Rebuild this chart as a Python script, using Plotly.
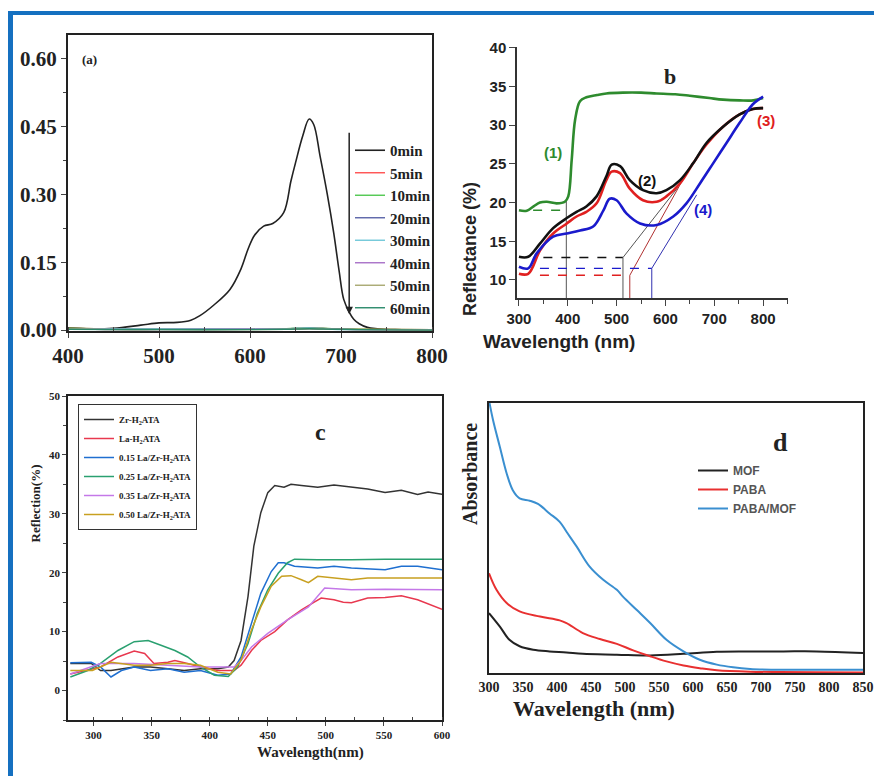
import plotly.graph_objects as go

# page body has an 8px margin: the figure sits at (8, 8) in the window
OFF = 8
W, H = 882 - OFF, 776 - OFF
def px(x): return (x - OFF) / W
def py(y): return 1 - (y - OFF) / H

SERIF = "Liberation Serif"
SANS = "Liberation Sans"

# ---------------- Panel (a) data ----------------
a_x0 = [400, 420, 450, 480, 500, 520, 535, 545, 560, 578, 590, 598, 605, 615, 625, 637, 645, 650, 658,
        665, 670, 677, 685, 692, 698, 703, 709, 714, 720, 729, 740, 760, 800]
a_y0 = [0.005, 0.003, 0.004, 0.011, 0.016, 0.017, 0.022, 0.032, 0.055, 0.09, 0.135, 0.18, 0.21, 0.230,
        0.236, 0.26, 0.33, 0.37, 0.43, 0.467, 0.455, 0.385, 0.30, 0.215, 0.13, 0.068, 0.04, 0.024,
        0.014, 0.006, 0.003, 0.001, 0.0]
a_xl = [400, 450, 500, 600, 640, 665, 690, 720, 800]
a_low = {
    "5min":  [0.004, 0.002, 0.002, 0.002, 0.003, 0.004, 0.003, 0.002, 0.001],
    "10min": [0.004, 0.002, 0.002, 0.002, 0.003, 0.005, 0.003, 0.002, 0.001],
    "20min": [0.003, 0.002, 0.002, 0.002, 0.003, 0.004, 0.003, 0.001, 0.001],
    "30min": [0.003, 0.002, 0.002, 0.002, 0.003, 0.004, 0.002, 0.001, 0.001],
    "40min": [0.003, 0.001, 0.001, 0.002, 0.002, 0.003, 0.002, 0.001, 0.000],
    "50min": [0.003, 0.001, 0.001, 0.001, 0.002, 0.003, 0.002, 0.001, 0.000],
    "60min": [0.002, 0.001, 0.001, 0.001, 0.002, 0.003, 0.002, 0.001, 0.000],
}
a_colors = {"0min": "#222222", "5min": "#ff5050", "10min": "#50c850", "20min": "#5a64a8",
            "30min": "#70c8d8", "40min": "#a870c8", "50min": "#a8a870", "60min": "#2a8a6a"}
a_yticks = [0.0, 0.15, 0.30, 0.45, 0.60]
a_xticks = [400, 500, 600, 700, 800]

# ---------------- Panel (b) data ----------------
b_g_x = [300, 316, 330, 343, 357, 377, 394, 401, 408, 415, 425, 438, 460, 479, 513, 550, 582, 620, 650,
         690, 718, 752, 780, 800]
b_g_y = [19.0, 18.95, 19.5, 20.0, 20.1, 19.9, 20.1, 20.8, 25.5, 30.7, 33.1, 33.6, 33.9, 34.1, 34.2,
         34.2, 34.1, 34.0, 33.8, 33.5, 33.3, 33.2, 33.2, 33.5]
b_k_x = [300, 319, 343, 370, 398, 418, 438, 459, 479, 490, 507, 527, 554, 582, 602, 630, 657, 684, 718,
         752, 779, 800]
b_k_y = [13.0, 13.0, 14.7, 16.7, 18.0, 18.8, 19.5, 20.8, 23.4, 24.9, 24.7, 22.9, 21.6, 21.2, 21.6,
         22.9, 25.1, 27.7, 29.8, 31.4, 32.1, 32.2]
b_r_x = [300, 319, 343, 370, 398, 418, 438, 459, 479, 490, 507, 527, 554, 582, 602, 630, 657, 684, 718,
         752, 779, 800]
b_r_y = [10.8, 10.8, 13.8, 16.0, 17.3, 18.2, 18.8, 19.9, 22.9, 24.0, 23.8, 21.8, 20.3, 20.1, 20.8,
         22.5, 25.1, 27.5, 29.8, 31.4, 32.1, 32.2]
b_b_x = [300, 319, 336, 370, 398, 425, 452, 473, 486, 500, 520, 548, 582, 616, 643, 671, 698, 725, 752,
         779, 800]
b_b_y = [11.7, 11.5, 13.4, 15.6, 16.0, 16.4, 16.9, 19.0, 20.5, 20.3, 18.6, 17.3, 17.1, 18.2, 19.9,
         22.5, 25.1, 27.7, 30.3, 32.7, 33.7]
b_colors = ["#2e8b2e", "#111111", "#e02020", "#1a1acc"]
b_labels = ["(1)", "(2)", "(3)", "(4)"]
# band-gap construction: baseline level, dashed start, onset wavelength, tangent end
b_base = [19.0, 12.9, 10.6, 11.5]
b_dash_start = [329, 350, 343, 343]
b_onset = [397, 513, 527, 572]
b_vert_top = [20.2, 12.9, 10.6, 11.5]
b_tan_end_x = [None, 626, 636, 664]
b_tan_end_y = [None, 22.0, 23.0, 21.0]
b_line_colors = ["#555555", "#555555", "#b03030", "#3030b0"]
b_yticks = [10, 15, 20, 25, 30, 35, 40]
b_xticks = [300, 400, 500, 600, 700, 800]

# ---------------- Panel (c) data ----------------
c_names = ["Zr-H<sub>2</sub>ATA", "La-H<sub>2</sub>ATA", "0.15 La/Zr-H<sub>2</sub>ATA",
           "0.25 La/Zr-H<sub>2</sub>ATA", "0.35 La/Zr-H<sub>2</sub>ATA", "0.50 La/Zr-H<sub>2</sub>ATA"]
c_colors = ["#333333", "#e8384f", "#1f6fd0", "#2aa070", "#c478e8", "#c8a020"]
c_x = [
    [280, 298, 306, 315, 335, 349, 364, 378, 392, 407, 416, 421, 427, 433, 438, 444, 450, 456, 464, 470,
     479, 493, 507, 522, 536, 551, 565, 579, 588, 600],
    [280, 292, 306, 321, 335, 344, 352, 364, 370, 381, 392, 407, 421, 427, 436, 444, 456, 467, 479, 490,
     496, 507, 515, 522, 536, 551, 565, 579, 594, 600],
    [280, 298, 306, 315, 324, 335, 349, 364, 378, 392, 407, 418, 427, 436, 444, 453, 459, 464, 473, 493,
     507, 522, 551, 565, 579, 600],
    [280, 295, 306, 321, 335, 347, 358, 370, 381, 392, 404, 416, 424, 433, 441, 450, 459, 467, 473, 493,
     522, 551, 600],
    [280, 306, 335, 364, 392, 421, 427, 436, 450, 467, 485, 499, 522, 551, 579, 600],
    [280, 299, 315, 335, 349, 364, 378, 392, 407, 418, 427, 436, 444, 453, 462, 470, 479, 485, 493, 507,
     522, 536, 600],
]
c_y = [
    [4.6, 4.6, 3.4, 3.4, 4.0, 4.0, 3.7, 3.4, 3.7, 3.7, 4.0, 5.1, 8.5, 16.0, 24.5, 30.2, 33.6, 34.8, 34.5,
     35.0, 34.8, 34.5, 34.9, 34.5, 34.2, 33.6, 34.0, 33.3, 33.7, 33.3],
    [2.8, 3.4, 4.0, 5.7, 6.7, 6.3, 4.6, 4.8, 5.1, 4.6, 4.0, 3.4, 3.4, 4.3, 6.8, 8.5, 10.0, 12.0, 13.7,
     15.0, 15.7, 15.4, 15.0, 14.9, 15.7, 15.8, 16.1, 15.4, 14.2, 13.8],
    [4.7, 4.8, 4.0, 2.3, 3.4, 4.0, 3.4, 3.7, 3.1, 3.4, 2.6, 2.8, 5.7, 11.4, 16.5, 20.2, 21.7, 21.7, 21.1,
     20.8, 21.1, 20.8, 20.5, 21.1, 21.1, 20.5],
    [2.3, 3.4, 4.6, 6.8, 8.3, 8.5, 7.7, 6.8, 5.7, 4.0, 2.6, 2.4, 4.0, 8.0, 13.1, 17.1, 19.9, 21.7, 22.3,
     22.2, 22.2, 22.3, 22.3],
    [2.8, 4.6, 4.6, 4.3, 4.0, 4.0, 5.1, 7.4, 9.7, 12.0, 14.2, 17.4, 17.1, 17.2, 17.2, 17.1],
    [3.4, 3.4, 4.8, 4.3, 4.3, 4.6, 4.6, 4.3, 3.1, 2.8, 5.1, 10.3, 14.2, 17.7, 19.4, 19.5, 18.8, 18.3,
     19.4, 19.1, 18.8, 19.1, 19.1],
]
c_yticks = [0, 10, 20, 30, 40, 50]
c_xticks = [300, 350, 400, 450, 500, 550, 600]

# ---------------- Panel (d) data ----------------
d_names = ["MOF", "PABA", "PABA/MOF"]
d_colors = ["#222222", "#e83030", "#3a8fd0"]
d_x = [
    [300, 316, 330, 345, 365, 389, 414, 438, 488, 537, 586, 635, 684, 733, 782, 850],
    [300, 311, 326, 345, 375, 404, 414, 438, 463, 488, 512, 537, 561, 586, 610, 635, 684, 850],
    [300, 306, 316, 326, 335, 345, 360, 372, 389, 404, 414, 429, 448, 468, 488, 497, 517, 537, 561, 586,
     610, 635, 659, 684, 733, 782, 850],
]
d_y = [
    [0.222, 0.172, 0.123, 0.099, 0.086, 0.080, 0.076, 0.071, 0.068, 0.065, 0.071, 0.079, 0.080, 0.080,
     0.080, 0.074],
    [0.369, 0.308, 0.259, 0.228, 0.209, 0.195, 0.185, 0.148, 0.126, 0.108, 0.084, 0.062, 0.043, 0.028,
     0.018, 0.010, 0.005, 0.002],
    [1.01, 0.936, 0.837, 0.739, 0.677, 0.647, 0.638, 0.626, 0.591, 0.560, 0.523, 0.468, 0.394, 0.345,
     0.308, 0.283, 0.234, 0.185, 0.123, 0.080, 0.049, 0.031, 0.021, 0.015, 0.012, 0.012, 0.012],
]
d_xticks = [300, 350, 400, 450, 500, 550, 600, 650, 700, 750, 800, 850]

fig = go.Figure()

# Panel a traces
fig.add_trace(go.Scatter(x=a_x0, y=a_y0, mode="lines", name="0min", line=dict(color=a_colors["0min"], width=1.6, shape="spline"),
                         xaxis="x", yaxis="y", legend="legend"))
for k, v in a_low.items():
    fig.add_trace(go.Scatter(x=a_xl, y=v, mode="lines", name=k, line=dict(color=a_colors[k], width=1.4, shape="spline"),
                             xaxis="x", yaxis="y", legend="legend"))

# Panel b construction lines
for i in range(4):
    fig.add_trace(go.Scatter(x=[b_dash_start[i], b_onset[i]], y=[b_base[i], b_base[i]], mode="lines",
                             line=dict(color=b_colors[i], width=1.4, dash="dash"), showlegend=False,
                             xaxis="x2", yaxis="y2"))
    fig.add_trace(go.Scatter(x=[b_onset[i], b_onset[i]], y=[7.67, b_vert_top[i]], mode="lines",
                             line=dict(color=b_line_colors[i], width=1), showlegend=False,
                             xaxis="x2", yaxis="y2"))
    if b_tan_end_x[i] is not None:
        fig.add_trace(go.Scatter(x=[b_onset[i], b_tan_end_x[i]], y=[b_base[i], b_tan_end_y[i]], mode="lines",
                                 line=dict(color=b_line_colors[i], width=1), showlegend=False,
                                 xaxis="x2", yaxis="y2"))
for xs, ys, col in [(b_g_x, b_g_y, b_colors[0]), (b_r_x, b_r_y, b_colors[2]), (b_k_x, b_k_y, b_colors[1]), (b_b_x, b_b_y, b_colors[3])]:
    fig.add_trace(go.Scatter(x=xs, y=ys, mode="lines", line=dict(color=col, width=2.6, shape="spline"),
                             showlegend=False, xaxis="x2", yaxis="y2"))

# Panel c traces
for i in range(6):
    fig.add_trace(go.Scatter(x=c_x[i], y=c_y[i], mode="lines", name=c_names[i],
                             line=dict(color=c_colors[i], width=1.5), xaxis="x3", yaxis="y3", legend="legend2"))

# Panel d traces
for i in range(3):
    fig.add_trace(go.Scatter(x=d_x[i], y=d_y[i], mode="lines", name=d_names[i],
                             line=dict(color=d_colors[i], width=2, shape="spline"), xaxis="x4", yaxis="y4", legend="legend3"))

frame = dict(showline=True, linecolor="#222222", mirror=True, showgrid=False, zeroline=False, automargin=False)

fig.update_layout(
    width=W, height=H, margin=dict(l=0, r=0, t=0, b=0, autoexpand=False),
    paper_bgcolor="white", plot_bgcolor="white", showlegend=True,
    xaxis=dict(domain=[px(68), px(432)], anchor="y", range=[400, 800], tickvals=a_xticks, ticks="outside", ticklen=5,
               linewidth=2, tickfont=dict(family=SERIF, size=21, color="#222", weight="bold"),
               minor=dict(dtick=50, ticks="inside", ticklen=4), **frame),
    yaxis=dict(domain=[py(331), py(35)], anchor="x", range=[-0.002, 0.653], tickvals=a_yticks, tickformat=".2f",
               ticks="outside", ticklen=5, linewidth=2, tickfont=dict(family=SERIF, size=21, color="#222", weight="bold"),
               minor=dict(dtick=0.075, ticks="outside", ticklen=3), **frame),
    xaxis2=dict(domain=[px(517), px(788)], anchor="y2", range=[296, 851], tickvals=b_xticks, ticks="outside", ticklen=6,
                showline=True, linecolor="#333", linewidth=1.5, showgrid=False, zeroline=False, automargin=False,
                tickfont=dict(family=SANS, size=15, color="#222", weight="bold"),
                minor=dict(tickvals=[350, 450, 550, 650, 750, 850], ticks="outside", ticklen=4)),
    yaxis2=dict(domain=[py(298), py(47)], anchor="x2", range=[7.67, 40.1], tickvals=b_yticks, ticks="outside", ticklen=6,
                showline=True, linecolor="#333", linewidth=1.5, showgrid=False, zeroline=False, automargin=False,
                tickfont=dict(family=SANS, size=15, color="#222", weight="bold")),
    xaxis3=dict(domain=[px(68), px(442)], anchor="y3", range=[278, 600], tickvals=c_xticks, ticks="outside", ticklen=4,
                linewidth=1.5, tickfont=dict(family=SERIF, size=11, color="#222", weight="bold"),
                minor=dict(dtick=25, ticks="inside", ticklen=3), **frame),
    yaxis3=dict(domain=[py(720), py(396)], anchor="x3", range=[-5, 50], tickvals=c_yticks, ticks="outside", ticklen=4,
                linewidth=1.5, tickfont=dict(family=SERIF, size=11, color="#222", weight="bold"),
                minor=dict(dtick=5, ticks="outside", ticklen=3), **frame),
    xaxis4=dict(domain=[px(489), px(863)], anchor="y4", range=[300, 850], tickvals=d_xticks, ticks="",
                linewidth=2, tickfont=dict(family=SERIF, size=14, color="#222", weight="bold"), **frame),
    yaxis4=dict(domain=[py(673), py(403)], anchor="x4", range=[0, 1], showticklabels=False, ticks="",
                linewidth=2, **frame),
    legend=dict(x=px(350), y=py(134), xanchor="left", yanchor="top", bgcolor="rgba(0,0,0,0)",
                font=dict(family=SERIF, size=15, color="#222", weight="bold"), itemwidth=30, tracegroupgap=0),
    legend2=dict(x=px(78), y=py(404), xanchor="left", yanchor="top", bgcolor="white", bordercolor="#333", borderwidth=1,
                 font=dict(family=SERIF, size=9, color="#222", weight="bold"), itemwidth=30),
    legend3=dict(x=px(693), y=py(456), xanchor="left", yanchor="top", bgcolor="rgba(0,0,0,0)",
                 font=dict(family=SANS, size=12, color="#555", weight="bold"), itemwidth=30),
)

ann = []
def A(text, x, y, size, family, color="#222", angle=0, bold=True):
    ann.append(dict(text=text, x=px(x), y=py(y), xref="paper", yref="paper", showarrow=False, textangle=angle,
                    font=dict(family=family, size=size, color=color, weight="bold" if bold else "normal")))

A("(a)", 80, 50, 13, SERIF)
A("b", 678, 62, 22, SERIF)
A("Reflectance (%)", 470, 180, 18, SANS, angle=-90)
A("Wavelength (nm)", 637, 341, 19, SANS)
for lab, col, (x, y) in zip(b_labels, b_colors, [(553, 142), (658, 170), (777, 110), (714, 199)]):
    A(lab, x, y, 15, SANS, color=col)
A("c", 320, 432, 24, SERIF)
A("Reflection(%)", 25, 545, 13, SERIF, angle=-90)
A("Wavelength(nm)", 255, 763, 15, SERIF)
A("d", 790, 442, 26, SERIF)
A("Absorbance", 470, 527, 20, SERIF, angle=-90)
A("Wavelength (nm)", 677, 723, 22, SERIF)

# arrow in panel a
ann.append(dict(x=709, y=0.035, ax=709, ay=0.44, xref="x", yref="y", axref="x", ayref="y", showarrow=True,
                arrowhead=2, arrowsize=1, arrowwidth=1.5, arrowcolor="#222", text=""))
fig.update_layout(annotations=ann)

# blue frame
fig.update_layout(shapes=[
    dict(type="rect", xref="paper", yref="paper", x0=px(8), x1=1, y0=py(15), y1=py(11), fillcolor="#1570c0", line=dict(width=0)),
    dict(type="rect", xref="paper", yref="paper", x0=px(8), x1=px(13), y0=0, y1=py(11), fillcolor="#1570c0", line=dict(width=0)),
])

fig.write_html("out.html")
